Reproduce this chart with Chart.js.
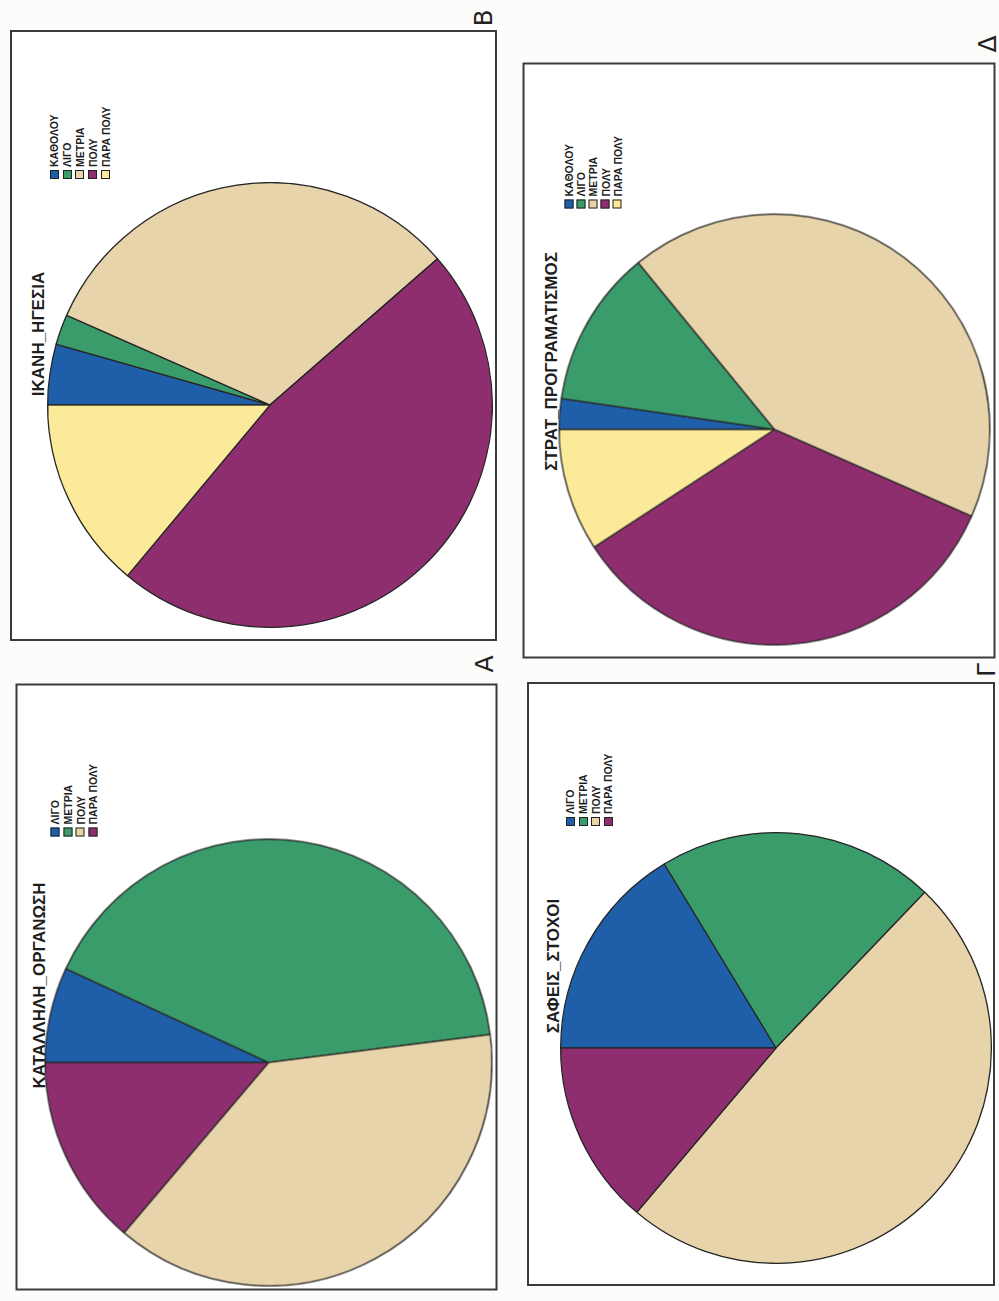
<!DOCTYPE html>
<html>
<head>
<meta charset="utf-8">
<script src="https://cdn.jsdelivr.net/npm/chart.js@4.4.1/dist/chart.umd.min.js"></script>
<style>
  html, body { margin: 0; padding: 0; background: #fcfcfb; }
  #page { position: relative; width: 999px; height: 1301px; overflow: hidden; }
  .frame { position: absolute; }
  .upright {
    position: absolute; background: #fff; box-sizing: border-box;
    border: 2px solid #3a3a3a; transform: rotate(-90deg); transform-origin: 50% 50%;
  }
  .pie { position: absolute; }
  .title {
    position: absolute; white-space: nowrap; color: #1e1e1e;
    font-family: "Liberation Sans", Arial, sans-serif; font-weight: bold; font-size: 17px;
    line-height: 1; transform: translate(-50%, -50%);
  }
  .legend {
    position: absolute; color: #1e1e1e;
    font-family: "Liberation Sans", Arial, sans-serif; font-weight: bold; font-size: 10.5px;
  }
  .legend .row { display: flex; align-items: center; white-space: nowrap; }
  .legend .sw { width: 7px; height: 7px; border: 1px solid #222; margin-right: 3px; flex: none; }
  .mark {
    position: absolute; font-family: "DejaVu Sans", sans-serif; font-size: 25px; line-height: 1;
    color: #222; transform: translate(-50%, -50%) rotate(-90deg);
  }
</style>
</head>
<body>
<div id="page"></div>
<script>
// Answer scales
const categories5 = ['ΚΑΘΟΛΟΥ', 'ΛΙΓΟ', 'ΜΕΤΡΙΑ', 'ΠΟΛΥ', 'ΠΑΡΑ ΠΟΛΥ'];
const categories4 = ['ΛΙΓΟ', 'ΜΕΤΡΙΑ', 'ΠΟΛΥ', 'ΠΑΡΑ ΠΟΛΥ'];

// Percentages of responses per question
const ikanhHgesia = [4.4, 2.2, 31.9, 47.4, 13.9];
const stratProgrammatismos = [2.3, 11.8, 42.5, 34.2, 9.2];
const katallhlhOrganwsh = [6.9, 41.1, 38.2, 13.8];
const safeisStoxoi = [16.3, 20.8, 49.0, 13.8];

// Chart titles and panel letters
const titles = ['ΙΚΑΝΗ_ΗΓΕΣΙΑ', 'ΣΤΡΑΤ_ΠΡΟΓΡΑΜΑΤΙΣΜΟΣ', 'ΚΑΤΑΛΛΗΛΗ_ΟΡΓΑΝΩΣΗ', 'ΣΑΦΕΙΣ_ΣΤΟΧΟΙ'];
const panelLetters = ['Β', 'Δ', 'Α', 'Γ'];

// Slice colours, in category order
const palette = ['#1f5fa9', '#3a9b6b', '#e7d4aa', '#8f2e6f', '#faea99'];

// Page layout: frame box on the sheet, pie centre/radius and title/legend
// placement in the chart's own (upright) coordinates, letter position on the sheet.
const panels = [
  { title: titles[0], labels: categories5, values: ikanhHgesia,
    box: { left: 10, top: 30, right: 497, bottom: 641 },
    pie: { u: 234, v: 258, r: 222 }, titlePos: { u: 305, v: 26 },
    legend: { u: 460, v: 36, step: 12.8 }, letter: { x: 483, y: 18, text: panelLetters[0] } },
  { title: titles[1], labels: categories5, values: stratProgrammatismos,
    box: { left: 522, top: 62, right: 995, bottom: 658 },
    pie: { u: 227, v: 250, r: 215 }, titlePos: { u: 295, v: 27 },
    legend: { u: 448, v: 38, step: 12.2 }, letter: { x: 987, y: 44, text: panelLetters[1] } },
  { title: titles[2], labels: categories4, values: katallhlhOrganwsh,
    box: { left: 15, top: 683, right: 497, bottom: 1290 },
    pie: { u: 226, v: 251, r: 223 }, titlePos: { u: 303, v: 22 },
    legend: { u: 452, v: 31, step: 12.7 }, letter: { x: 484, y: 664, text: panelLetters[2] } },
  { title: titles[3], labels: categories4, values: safeisStoxoi,
    box: { left: 527, top: 682, right: 995, bottom: 1286 },
    pie: { u: 236, v: 247, r: 215 }, titlePos: { u: 318, v: 24 },
    legend: { u: 458, v: 35, step: 12.7 }, letter: { x: 986, y: 670, text: panelLetters[3] } }
];

const page = document.getElementById('page');

panels.forEach((p) => {
  const w = p.box.right - p.box.left;   // width on the sheet
  const h = p.box.bottom - p.box.top;   // height on the sheet

  const frame = document.createElement('div');
  frame.className = 'frame';
  Object.assign(frame.style, { left: p.box.left + 'px', top: p.box.top + 'px', width: w + 'px', height: h + 'px' });
  page.appendChild(frame);

  // The chart is laid out upright (h wide, w tall) and turned a quarter turn.
  const up = document.createElement('div');
  up.className = 'upright';
  Object.assign(up.style, { width: h + 'px', height: w + 'px', left: (w - h) / 2 + 'px', top: (h - w) / 2 + 'px' });
  frame.appendChild(up);

  const title = document.createElement('div');
  title.className = 'title';
  title.textContent = p.title;
  Object.assign(title.style, { left: p.titlePos.u + 'px', top: p.titlePos.v + 'px' });
  up.appendChild(title);

  const legend = document.createElement('div');
  legend.className = 'legend';
  Object.assign(legend.style, { left: p.legend.u + 'px', top: p.legend.v + 'px' });
  p.labels.forEach((lab, i) => {
    const row = document.createElement('div');
    row.className = 'row';
    row.style.height = p.legend.step + 'px';
    const sw = document.createElement('span');
    sw.className = 'sw';
    sw.style.background = palette[i];
    const tx = document.createElement('span');
    tx.textContent = lab;
    row.appendChild(sw);
    row.appendChild(tx);
    legend.appendChild(row);
  });
  up.appendChild(legend);

  const size = 2 * p.pie.r + 2;
  const holder = document.createElement('div');
  holder.className = 'pie';
  Object.assign(holder.style, { left: (p.pie.u - size / 2) + 'px', top: (p.pie.v - size / 2) + 'px', width: size + 'px', height: size + 'px' });
  const cv = document.createElement('canvas');
  cv.width = size; cv.height = size;
  holder.appendChild(cv);
  up.appendChild(holder);

  new Chart(cv, {
    type: 'pie',
    data: {
      labels: p.labels,
      datasets: [{
        data: p.values,
        backgroundColor: palette.slice(0, p.labels.length),
        borderColor: '#262626',
        borderWidth: 1.3,
        hoverOffset: 0
      }]
    },
    options: {
      responsive: false,
      animation: false,
      events: [],
      layout: { padding: 0 },
      plugins: { legend: { display: false }, tooltip: { enabled: false }, title: { display: false } }
    }
  });

  const mark = document.createElement('div');
  mark.className = 'mark';
  mark.textContent = p.letter.text;
  Object.assign(mark.style, { left: p.letter.x + 'px', top: p.letter.y + 'px' });
  page.appendChild(mark);
});
</script>
</body>
</html>
